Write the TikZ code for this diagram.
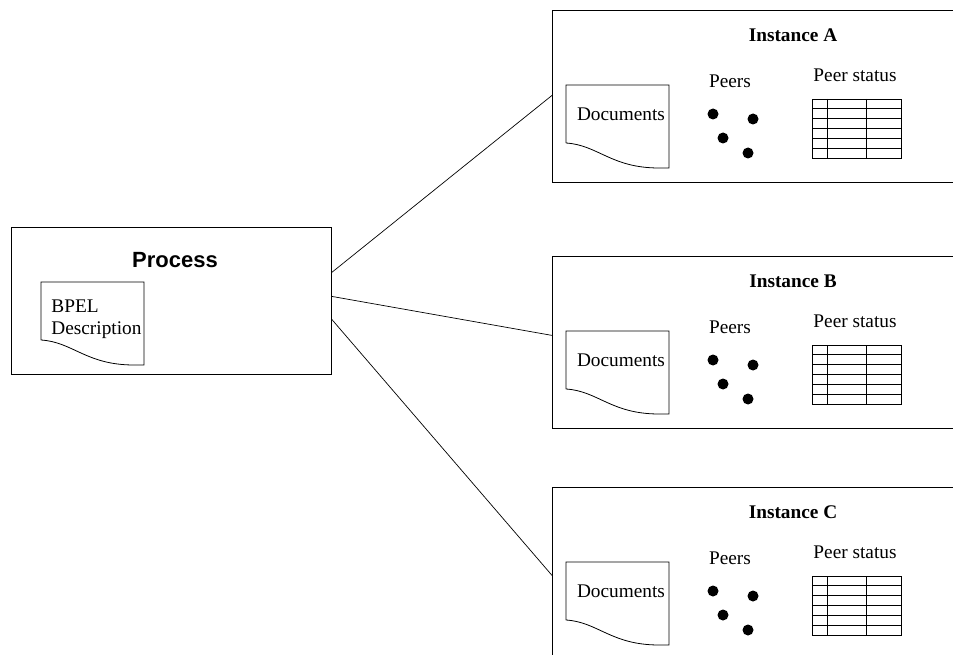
\documentclass[tikz,border=0pt]{standalone}
\usepackage{fontspec}
\setmainfont{Liberation Serif}
\newfontfamily\headsans{Liberation Sans}
\begin{document}
\begin{tikzpicture}[x=1pt,y=-1pt,line width=0.8pt,
  txt/.style={font=\fontsize{19.3}{22}\selectfont, inner sep=0pt},
  ttl/.style={font=\fontsize{19.3}{22}\selectfont\bfseries, inner sep=0pt},
  frame/.style={draw, rectangle, inner sep=0pt, anchor=north west},
  peer/.style={circle, fill=black, inner sep=0pt, minimum size=11pt},
  wire/.style={draw, line width=0.7pt}
]
\useasboundingbox (0,0) rectangle (953,655);
\clip (0,0) rectangle (953,655);

% document icon with a wavy lower edge: left, top, right, bottom, wave start
\newcommand{\docicon}[5]{%
  \draw (#1,#5) -- (#1,#2) -- (#3,#2) -- (#3,#4)
    -- ({#3-10},#4)
    .. controls ({#1+45},#4) and ({#1+32},{#5+2}) .. (#1,#5);}

% process box
\node[frame, minimum width=320pt, minimum height=147pt] (proc) at (11,227) {};
\node[font=\headsans\bfseries\fontsize{22}{26}\selectfont, inner sep=0pt] (proct) at (175,260) {Process};
\docicon{41}{282}{144}{365}{340}
\node[txt, anchor=west] (bpel) at (51,306) {BPEL};
\node[txt, anchor=west] (bdesc) at (51,330) {Description};

% one instance panel, drawn with a vertical offset
\newcommand{\instance}[3]{%
  \begin{scope}[yshift={-#2pt}]
    \node[frame, minimum width=440pt, minimum height=172pt] (#1) at (552,10) {};
    \node[ttl] (#1title) at (793,35) {Instance #3};
    \docicon{566}{85}{669}{168}{143}
    \node[txt] (#1docs) at (621,114) {Documents};
    \node[txt] (#1peers) at (730,81) {Peers};
    \node[peer] (#1p1) at (713,114) {};
    \node[peer] (#1p2) at (753,119) {};
    \node[peer] (#1p3) at (723,138) {};
    \node[peer] (#1p4) at (748,153) {};
    \node[txt] (#1status) at (855,75) {Peer status};
    \draw[line width=0.8pt] (812,99) rectangle (901,158);
    \foreach \cx in {827,866} \draw[line width=0.8pt] (\cx,99) -- (\cx,158);
    \foreach \ry in {1,...,5} \draw[line width=0.8pt] (812,{99+\ry*59/6}) -- (901,{99+\ry*59/6});
  \end{scope}}

\instance{instA}{0}{A}
\instance{instB}{246}{B}
\instance{instC}{477}{C}

% connectors from the process to each instance
\draw[wire] ([yshift=28.5pt]proc.east) -- ([yshift=1pt]instA.west);
\draw[wire] ([yshift=4.5pt]proc.east) -- ([yshift=7pt]instB.west);
\draw[wire] ([yshift=-18.5pt]proc.east) -- ([yshift=-2pt]instC.west);
\end{tikzpicture}
\end{document}
